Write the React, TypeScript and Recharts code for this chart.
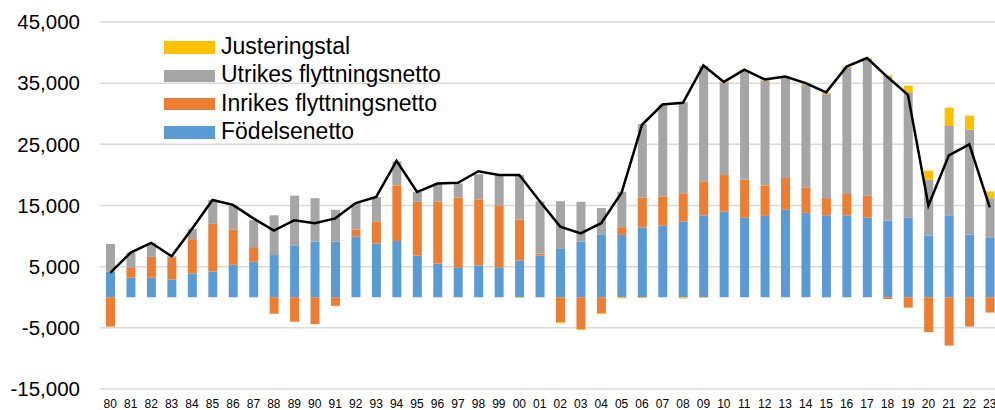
import React from 'react';
import { ComposedChart, Bar, Line, XAxis, YAxis, CartesianGrid, Legend } from 'recharts';

const FONT = '"Liberation Sans", Arial, sans-serif';

const years = ['80','81','82','83','84','85','86','87','88','89','90','91','92','93','94','95','96','97','98','99','00','01','02','03','04','05','06','07','08','09','10','11','12','13','14','15','16','17','18','19','20','21','22','23'];

const fodelsenetto = [4200,3200,3200,2900,3900,4200,5300,5800,6900,8400,9100,9100,9900,8800,9200,6800,5500,4900,5200,4900,6000,6800,7900,9100,10200,10200,11400,11700,12400,13400,14000,13000,13300,14300,13800,13400,13400,13000,12500,13000,10100,13400,10200,9700];

const inrikes = [-4800,1600,3400,3600,5600,7800,5800,2400,-2700,-4000,-4400,-1400,1200,3600,9100,8800,10100,11400,10800,10100,6700,350,-4100,-5200,-2600,1250,4900,4800,4600,5500,6000,6200,5000,5200,4100,2800,3500,3600,-300,-1700,-5700,-7900,-4800,-2500];

const utrikes = [4500,2500,2300,200,1700,3900,3900,4400,6500,8200,7100,5200,4300,4000,3900,1600,3000,2300,4100,4900,7300,8500,7800,6500,4400,5800,12000,14800,14900,18900,15100,17900,17100,16500,16800,17000,20600,22400,23500,20500,9100,14600,17200,6500];

const justeringstal = [0,0,0,0,0,0,0,0,0,0,0,0,0,0,0,0,0,0,0,0,-100,100,-150,-150,-150,-200,-150,200,-200,-100,200,100,200,100,200,200,200,150,300,1100,1500,3000,2300,1100];

const total = [4000,7300,8900,6700,11200,15900,15100,12900,10900,12600,12100,12900,15400,16400,22300,17200,18600,18700,20600,20000,20000,15700,11550,10450,12100,17100,28200,31500,31800,37900,35200,37200,35600,36100,35000,33500,37700,39100,36000,33100,15000,23200,25000,14700];

const yTicks = [-15000, -5000, 5000, 15000, 25000, 35000, 45000];

const seriesNames = ['Födelsenetto', 'Inrikes flyttningsnetto', 'Utrikes flyttningsnetto', 'Justeringstal'];
const seriesColors = ['#5b9bd5', '#ed7d31', '#a5a5a5', '#ffc000'];

const data = years.map((y, i) => ({
  year: y,
  fod: fodelsenetto[i],
  inr: inrikes[i],
  utr: utrikes[i],
  jus: justeringstal[i],
  tot: total[i],
}));

const keys = ['fod', 'inr', 'utr', 'jus'];

const LegendContent = () => {
  const order = [3, 2, 1, 0];
  return (
    <div style={{ fontFamily: FONT }}>
      {order.map((i) => (
        <div key={i} style={{ display: 'flex', alignItems: 'center', height: 28.3 }}>
          <div style={{ width: 51, height: 12.5, background: seriesColors[i], marginTop: 3, marginRight: 6 }} />
          <span style={{ fontSize: 23, color: '#000', lineHeight: '28.3px', whiteSpace: 'nowrap' }}>{seriesNames[i]}</span>
        </div>
      ))}
    </div>
  );
};

export default function App() {
  return (
    <div style={{ position: 'absolute', left: 0, top: 0, width: 995, height: 410, overflow: 'hidden', background: '#fff', fontFamily: FONT }}>
      <ComposedChart
        width={1000}
        height={410}
        data={data}
        margin={{ top: 22, right: 0, bottom: 0, left: 0 }}
        stackOffset="sign"
        barSize={9}
      >
        <CartesianGrid vertical={false} stroke="#d9d9d9" strokeWidth={1.5} />
        <XAxis
          dataKey="year"
          interval={0}
          tickLine={false}
          axisLine={false}
          tickSize={0}
          tickMargin={10}
          height={21}
          tick={{ fontSize: 12, fill: '#000', fontFamily: FONT }}
        />
        <YAxis
          domain={[-15000, 45000]}
          ticks={yTicks}
          width={100}
          tickLine={false}
          axisLine={false}
          tickSize={0}
          tickMargin={20}
          interval={0}
          tick={{ fontSize: 20.5, fill: '#000', fontFamily: FONT }}
          tickFormatter={(v: number) => v.toLocaleString('en-US')}
        />
        <Legend
          layout="vertical"
          align="center"
          verticalAlign="middle"
          wrapperStyle={{ position: 'absolute', left: 164, top: 32, width: 'auto', height: 'auto' }}
          content={() => <LegendContent />}
        />
        {keys.map((k, i) => (
          <Bar key={k} dataKey={k} name={seriesNames[i]} stackId="a" fill={seriesColors[i]} isAnimationActive={false} />
        ))}
        <Line dataKey="tot" type="linear" stroke="#000" strokeWidth={2.5} dot={false} activeDot={false} isAnimationActive={false} legendType="none" />
      </ComposedChart>
    </div>
  );
}
